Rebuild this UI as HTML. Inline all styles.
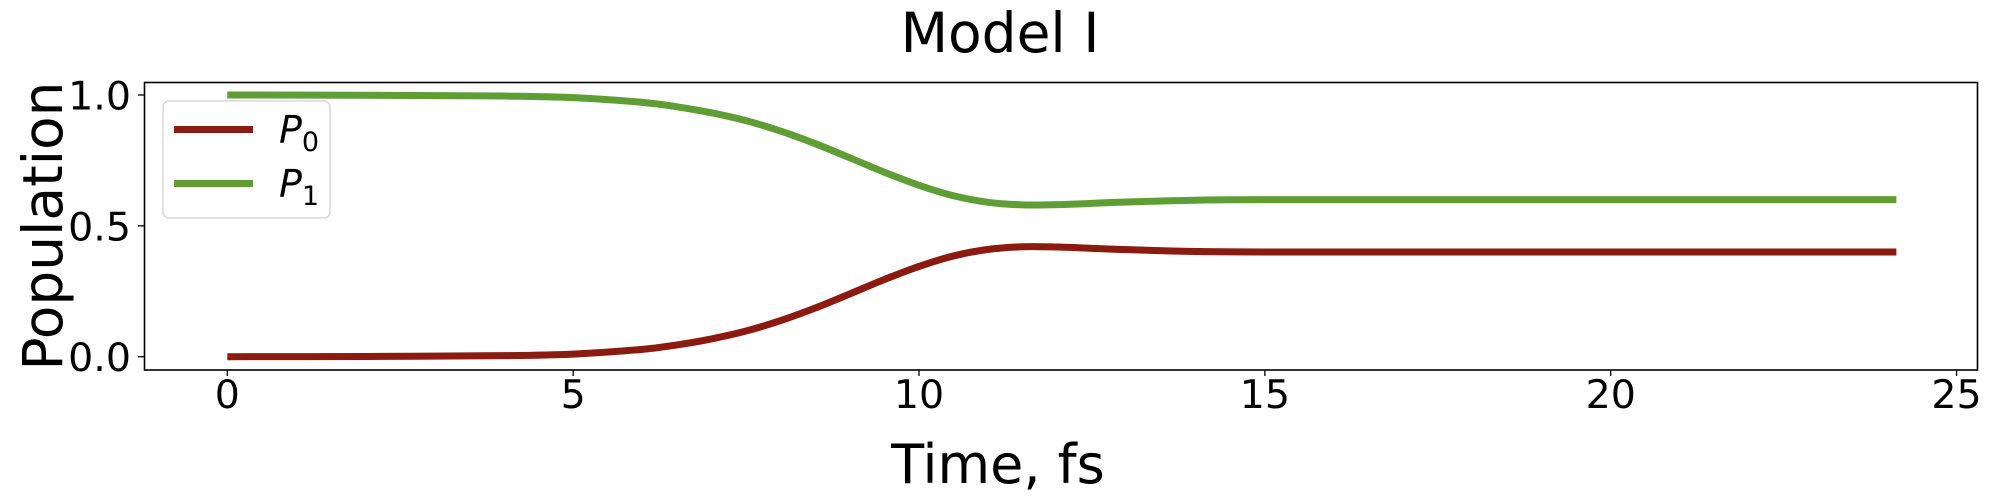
<!DOCTYPE html>
<html><head><meta charset="utf-8"><style>
html,body{margin:0;padding:0;background:#fff;}
svg{display:block;font-family:"DejaVu Sans","Liberation Sans",sans-serif;}
</style></head><body>
<svg id="chart" width="2000" height="500" viewBox="0 0 2000 500">
<text x="1000" y="52" font-size="55" text-anchor="middle">Model I</text>
<rect x="144.5" y="82.5" width="1833" height="287.5" fill="none" stroke="#000" stroke-width="1.6"/>
<g id="xticks"></g>
<g id="yticks"></g>
<g id="lines"></g>
<text x="998" y="483" font-size="54" text-anchor="middle">Time, fs</text>
<text transform="translate(62,226) rotate(-90)" font-size="55" text-anchor="middle">Population</text>
<g>
<rect x="163" y="101" width="167" height="117" rx="6" fill="#fff" fill-opacity="0.8" stroke="#d9d9d9" stroke-width="1.5"/>
<line x1="174" y1="129.5" x2="253" y2="129.5" stroke="#8b1a10" stroke-width="7"/>
<text x="279" y="143" font-size="38" font-style="italic">P<tspan font-style="normal" font-size="27" dy="8">0</tspan></text>
<line x1="174" y1="183.5" x2="253" y2="183.5" stroke="#5f9e35" stroke-width="7"/>
<text x="279" y="197" font-size="38" font-style="italic">P<tspan font-style="normal" font-size="27" dy="8">1</tspan></text>
</g>
</svg>
<script>
const times = [0,2,4,5,6,6.5,7,7.5,8,8.5,9,9.5,10,10.5,11,11.5,12,12.5,13,14,15,18,24.13];
const p0 = [0,0.001,0.004,0.01,0.028,0.045,0.068,0.098,0.138,0.186,0.24,0.295,0.345,0.385,0.41,0.42,0.419,0.414,0.409,0.402,0.4,0.4,0.4];
const p1 = [1,0.999,0.996,0.99,0.972,0.955,0.932,0.902,0.862,0.814,0.76,0.705,0.655,0.615,0.59,0.58,0.581,0.586,0.591,0.598,0.6,0.6,0.6];
const xTicks = [0,5,10,15,20,25];
const yTicks = [0.0,0.5,1.0];
const xs = t => 227.3 + t*69.17;
const ys = v => 356.7 - v*261.7;
const NS = "http://www.w3.org/2000/svg";
const xg = document.getElementById('xticks'), yg = document.getElementById('yticks'), lg = document.getElementById('lines');
xTicks.forEach(t => {
  const l = document.createElementNS(NS,'line');
  l.setAttribute('x1',xs(t)); l.setAttribute('x2',xs(t)); l.setAttribute('y1',370); l.setAttribute('y2',376);
  l.setAttribute('stroke','#000'); l.setAttribute('stroke-width','1.3');
  
  
  xg.appendChild(l);
  const tx = document.createElementNS(NS,'text');
  tx.setAttribute('x',xs(t)); tx.setAttribute('y',408); tx.setAttribute('font-size','39.5'); tx.setAttribute('text-anchor','middle');
  tx.textContent = t;
  
  
  xg.appendChild(tx);
});
yTicks.forEach(v => {
  const l = document.createElementNS(NS,'line');
  l.setAttribute('x1',138); l.setAttribute('x2',144.5); l.setAttribute('y1',ys(v)); l.setAttribute('y2',ys(v));
  l.setAttribute('stroke','#000'); l.setAttribute('stroke-width','1.3');
  
  
  yg.appendChild(l);
  const tx = document.createElementNS(NS,'text');
  tx.setAttribute('x',131); tx.setAttribute('y',ys(v)+14.5); tx.setAttribute('font-size','39.5'); tx.setAttribute('text-anchor','end');
  tx.textContent = v.toFixed(1);
  
  
  yg.appendChild(tx);
});
function path(vals){
  const pts = times.map((t,i)=>[xs(t),ys(vals[i])]);
  let d = 'M'+pts[0][0]+','+pts[0][1];
  for(let i=0;i<pts.length-1;i++){
    const p0=pts[Math.max(0,i-1)],p1=pts[i],p2=pts[i+1],p3=pts[Math.min(pts.length-1,i+2)];
    const c1=[p1[0]+(p2[0]-p0[0])/6,p1[1]+(p2[1]-p0[1])/6];
    const c2=[p2[0]-(p3[0]-p1[0])/6,p2[1]-(p3[1]-p1[1])/6];
    d+=' C'+c1+' '+c2+' '+p2;
  }
  return d;
}
[[p0,'#8b1a10','line-p0'],[p1,'#5f9e35','line-p1']].forEach(([vals,c,n])=>{
  const p = document.createElementNS(NS,'path');
  p.setAttribute('d',path(vals)); p.setAttribute('fill','none'); p.setAttribute('stroke',c); p.setAttribute('stroke-width','7');
  
  
  lg.appendChild(p);
});
</script>
</body></html>
